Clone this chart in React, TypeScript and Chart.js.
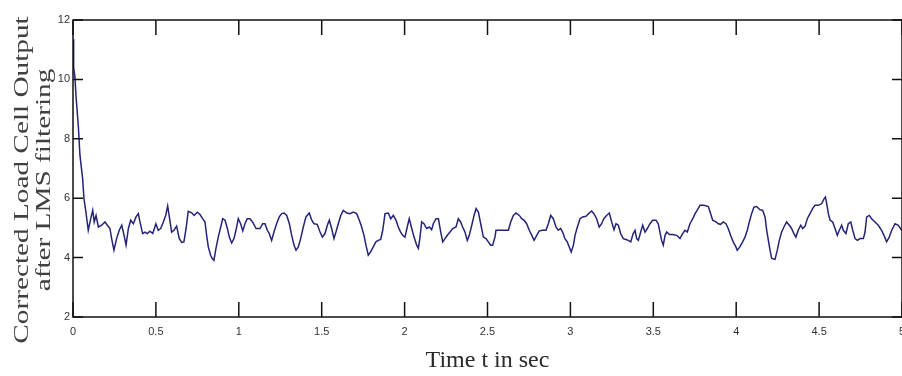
import React, { useEffect, useRef } from "react";
import { Chart, registerables } from "chart.js";

Chart.register(...registerables);

// Time axis (seconds)
const timeSec = [
  0.002, 0.004, 0.012, 0.018, 0.032, 0.042, 0.058, 0.066, 0.078, 0.092,
  0.107, 0.119, 0.128, 0.139, 0.153, 0.173, 0.193, 0.207, 0.223, 0.233,
  0.247, 0.263, 0.279, 0.294, 0.308, 0.32, 0.334, 0.348, 0.364, 0.38,
  0.394, 0.404, 0.42, 0.434, 0.448, 0.464, 0.481, 0.5, 0.514, 0.529,
  0.545, 0.559, 0.571, 0.581, 0.595, 0.609, 0.625, 0.641, 0.656, 0.669,
  0.682, 0.695, 0.716, 0.73, 0.75, 0.766, 0.782, 0.796, 0.806, 0.816,
  0.83, 0.84, 0.85, 0.862, 0.876, 0.891, 0.903, 0.917, 0.931, 0.943,
  0.957, 0.971, 0.983, 0.997, 1.011, 1.024, 1.037, 1.051, 1.067, 1.083,
  1.104, 1.128, 1.144, 1.158, 1.172, 1.184, 1.198, 1.212, 1.228, 1.244,
  1.259, 1.273, 1.289, 1.305, 1.319, 1.333, 1.345, 1.359, 1.373, 1.389,
  1.405, 1.425, 1.44, 1.454, 1.473, 1.49, 1.504, 1.52, 1.534, 1.546,
  1.56, 1.574, 1.586, 1.6, 1.615, 1.63, 1.651, 1.671, 1.69, 1.711,
  1.727, 1.741, 1.755, 1.767, 1.781, 1.795, 1.811, 1.827, 1.841, 1.856,
  1.868, 1.882, 1.902, 1.916, 1.932, 1.948, 1.962, 1.976, 1.988, 2.002,
  2.016, 2.028, 2.043, 2.057, 2.073, 2.083, 2.093, 2.103, 2.117, 2.133,
  2.149, 2.163, 2.173, 2.19, 2.204, 2.218, 2.23, 2.244, 2.258, 2.274,
  2.29, 2.31, 2.324, 2.338, 2.35, 2.364, 2.378, 2.39, 2.405, 2.419,
  2.431, 2.445, 2.459, 2.475, 2.491, 2.505, 2.519, 2.531, 2.545, 2.551,
  2.575, 2.606, 2.626, 2.64, 2.656, 2.672, 2.692, 2.706, 2.72, 2.736,
  2.752, 2.767, 2.781, 2.797, 2.812, 2.833, 2.853, 2.867, 2.881, 2.897,
  2.913, 2.927, 2.941, 2.953, 2.967, 2.981, 2.993, 3.005, 3.018, 3.028,
  3.042, 3.058, 3.074, 3.094, 3.114, 3.128, 3.142, 3.158, 3.174, 3.188,
  3.202, 3.218, 3.235, 3.249, 3.263, 3.275, 3.289, 3.303, 3.319, 3.335,
  3.349, 3.364, 3.378, 3.39, 3.4, 3.41, 3.424, 3.436, 3.45, 3.464,
  3.48, 3.496, 3.516, 3.53, 3.54, 3.55, 3.56, 3.571, 3.581, 3.597,
  3.617, 3.641, 3.661, 3.677, 3.691, 3.705, 3.721, 3.738, 3.752, 3.766,
  3.782, 3.806, 3.832, 3.846, 3.858, 3.878, 3.892, 3.906, 3.922, 3.938,
  3.952, 3.966, 3.982, 3.998, 4.006, 4.022, 4.039, 4.053, 4.067, 4.079,
  4.093, 4.107, 4.123, 4.144, 4.16, 4.174, 4.184, 4.194, 4.204, 4.214,
  4.234, 4.248, 4.26, 4.274, 4.288, 4.304, 4.32, 4.334, 4.348, 4.36,
  4.374, 4.389, 4.401, 4.415, 4.429, 4.445, 4.461, 4.475, 4.495, 4.516,
  4.53, 4.538, 4.546, 4.556, 4.566, 4.582, 4.596, 4.61, 4.622, 4.636,
  4.646, 4.662, 4.676, 4.691, 4.703, 4.717, 4.731, 4.747, 4.767, 4.777,
  4.787, 4.803, 4.817, 4.837, 4.857, 4.877, 4.891, 4.907, 4.923, 4.938,
  4.958, 4.978, 4.998,
];

// Corrected load cell output after LMS filtering
const loadCellOutput = [
  11.35, 10.4, 10.06, 9.45, 8.44, 7.44, 6.66, 5.99, 5.53, 4.92,
  5.31, 5.59, 5.2, 5.42, 5.03, 5.09, 5.2, 5.09, 4.98, 4.64,
  4.25, 4.64, 4.92, 5.09, 4.75, 4.42, 4.98, 5.26, 5.14, 5.37,
  5.48, 5.2, 4.81, 4.86, 4.81, 4.89, 4.81, 5.14, 4.92, 4.98,
  5.2, 5.42, 5.74, 5.37, 4.86, 4.92, 5.06, 4.64, 4.51, 4.53,
  4.98, 5.56, 5.51, 5.42, 5.53, 5.45, 5.31, 5.2, 4.75, 4.36,
  4.08, 3.97, 3.91, 4.3, 4.69, 5.03, 5.31, 5.26, 4.98, 4.69,
  4.49, 4.64, 4.92, 5.31, 5.14, 4.9, 5.14, 5.31, 5.31, 5.2,
  4.98, 4.98, 5.14, 5.14, 4.92, 4.81, 4.58, 4.86, 5.14, 5.37,
  5.48, 5.5, 5.42, 5.14, 4.75, 4.42, 4.25, 4.36, 4.64, 5.03,
  5.37, 5.5, 5.26, 5.14, 5.12, 4.86, 4.69, 4.81, 5.09, 5.26,
  4.98, 4.64, 4.86, 5.14, 5.42, 5.59, 5.5, 5.48, 5.53, 5.48,
  5.26, 5.03, 4.75, 4.42, 4.08, 4.19, 4.36, 4.53, 4.58, 4.61,
  4.92, 5.48, 5.5, 5.31, 5.42, 5.26, 5.03, 4.86, 4.75, 4.69,
  5.03, 5.31, 4.98, 4.69, 4.42, 4.31, 4.69, 5.2, 5.14, 4.98,
  5.03, 4.94, 5.14, 5.31, 5.31, 4.86, 4.53, 4.64, 4.75, 4.86,
  4.98, 5.03, 5.31, 5.2, 5.03, 4.86, 4.58, 4.75, 5.09, 5.42,
  5.65, 5.53, 5.14, 4.69, 4.64, 4.53, 4.42, 4.42, 4.69, 4.92,
  4.92, 4.92, 4.92, 5.2, 5.42, 5.5, 5.42, 5.31, 5.26, 5.14,
  4.92, 4.75, 4.58, 4.75, 4.9, 4.92, 4.92, 5.14, 5.42, 5.31,
  5.03, 4.92, 4.98, 4.86, 4.64, 4.53, 4.36, 4.19, 4.42, 4.75,
  5.03, 5.31, 5.37, 5.39, 5.5, 5.57, 5.48, 5.31, 5.03, 5.14,
  5.31, 5.42, 5.5, 5.2, 4.94, 5.14, 5.09, 4.81, 4.64, 4.61,
  4.58, 4.53, 4.8, 4.92, 4.64, 4.58, 4.86, 5.09, 4.86, 4.98,
  5.14, 5.26, 5.26, 5.14, 4.86, 4.58, 4.42, 4.75, 4.86, 4.78,
  4.78, 4.75, 4.64, 4.81, 4.92, 4.86, 5.14, 5.31, 5.48, 5.61,
  5.76, 5.76, 5.72, 5.48, 5.26, 5.2, 5.14, 5.12, 5.2, 5.14,
  4.98, 4.75, 4.53, 4.36, 4.25, 4.36, 4.53, 4.69, 4.92, 5.2,
  5.48, 5.7, 5.72, 5.61, 5.59, 5.37, 4.92, 4.58, 4.25, 3.97,
  3.94, 4.25, 4.58, 4.86, 5.03, 5.2, 5.09, 4.98, 4.81, 4.69,
  4.92, 5.09, 4.98, 5.05, 5.31, 5.48, 5.65, 5.76, 5.76, 5.82,
  5.98, 6.04, 5.82, 5.48, 5.26, 5.2, 4.98, 4.75, 4.92, 5.09,
  4.92, 4.81, 5.14, 5.2, 4.92, 4.64, 4.58, 4.64, 4.64, 4.86,
  5.37, 5.42, 5.31, 5.2, 5.09, 4.92, 4.75, 4.53, 4.69, 4.92,
  5.14, 5.09, 4.92,
];

const xTickValues = [0, 0.5, 1, 1.5, 2, 2.5, 3, 3.5, 4, 4.5, 5];
const xTickLabels = ["0", "0.5", "1", "1.5", "2", "2.5", "3", "3.5", "4", "4.5", "5"];
const yTickValues = [2, 4, 6, 8, 10, 12];
const yTickLabels = ["2", "4", "6", "8", "10", "12"];
const xAxisTitle = "Time t in sec";
const yAxisTitleLines = ["Corrected Load Cell Output", "after LMS filtering"];

const labelFor = (values: number[], labels: string[], v: number) => {
  const i = values.findIndex((t) => Math.abs(t - v) < 1e-6);
  return i >= 0 ? labels[i] : "";
};

const frameAndTicks = {
  id: "frameAndTicks",
  afterDatasetsDraw(chart: any) {
    const { ctx, chartArea, scales } = chart;
    const { left, right, top, bottom } = chartArea;
    const x = scales.x;
    const y = scales.y;
    ctx.save();
    ctx.strokeStyle = "#111";
    ctx.lineWidth = 1.5;
    ctx.strokeRect(left, top, right - left, bottom - top);
    ctx.beginPath();
    x.ticks.forEach((t: any) => {
      const px = x.getPixelForValue(t.value);
      ctx.moveTo(px, bottom);
      ctx.lineTo(px, bottom - 15);
      ctx.moveTo(px, top);
      ctx.lineTo(px, top + 15);
    });
    y.ticks.forEach((t: any) => {
      const py = y.getPixelForValue(t.value);
      ctx.moveTo(left, py);
      ctx.lineTo(left + 10, py);
      ctx.moveTo(right, py);
      ctx.lineTo(right - 10, py);
    });
    ctx.stroke();
    ctx.restore();
  },
};

const yTitlePlugin = {
  id: "yTitlePlugin",
  afterDraw(chart: any) {
    const { ctx } = chart;
    const cy = 180;
    const xs = [22, 44];
    ctx.save();
    ctx.fillStyle = "#404040";
    ctx.font = '22px "Liberation Serif", "Times New Roman", serif';
    ctx.textAlign = "center";
    ctx.textBaseline = "middle";
    yAxisTitleLines.forEach((line, i) => {
      ctx.save();
      ctx.translate(xs[i], cy);
      ctx.rotate(-Math.PI / 2);
      ctx.scale(1.33, 1);
      ctx.fillText(line, 0, 0);
      ctx.restore();
    });
    ctx.restore();
  },
};

export default function App() {
  const canvasRef = useRef<HTMLCanvasElement | null>(null);

  useEffect(() => {
    if (!canvasRef.current) return;
    const points = timeSec.map((t, i) => ({ x: t, y: loadCellOutput[i] }));
    const chart = new Chart(canvasRef.current, {
      type: "line",
      data: {
        datasets: [
          {
            data: points,
            borderColor: "#23237a",
            borderWidth: 1.5,
            pointRadius: 0,
            tension: 0,
            fill: false,
          },
        ],
      },
      options: {
        animation: false,
        responsive: false,
        devicePixelRatio: 1,
        layout: { padding: { top: 20, right: 2, left: 0, bottom: 0 } },
        plugins: {
          legend: { display: false },
          tooltip: { enabled: false },
        },
        scales: {
          x: {
            type: "linear",
            min: 0,
            max: 5,
            grid: { display: false, drawTicks: false },
            border: { display: false },
            ticks: {
              stepSize: 0.5,
              autoSkip: false,
              maxRotation: 0,
              padding: 8,
              color: "#333",
              font: { family: '"Liberation Sans", Arial, sans-serif', size: 11 },
              callback: (v: any) => labelFor(xTickValues, xTickLabels, Number(v)),
            },
            title: {
              display: true,
              text: xAxisTitle,
              color: "#2a2a2a",
              font: { family: '"Liberation Serif", "Times New Roman", serif', size: 24 },
              padding: { top: 0, bottom: 1 },
            },
            afterFit: (s: any) => {
              s.height = 59;
              s.paddingLeft = 0;
              s.paddingRight = 0;
            },
          },
          y: {
            type: "linear",
            min: 2,
            max: 12,
            grid: { display: false, drawTicks: false },
            border: { display: false },
            ticks: {
              stepSize: 2,
              padding: 3,
              color: "#333",
              font: { family: '"Liberation Sans", Arial, sans-serif', size: 11 },
              callback: (v: any) => labelFor(yTickValues, yTickLabels, Number(v)),
            },
            afterFit: (s: any) => {
              s.width = 73;
              s.paddingTop = 0;
              s.paddingBottom = 0;
            },
          },
        },
      },
      plugins: [frameAndTicks, yTitlePlugin],
    });
    return () => chart.destroy();
  }, []);

  return (
    <div
      style={{
        position: "absolute",
        left: 0,
        top: 0,
        width: 902,
        height: 376,
        overflow: "hidden",
        background: "#fff",
      }}
    >
      <canvas ref={canvasRef} width={904} height={376} style={{ display: "block" }} />
    </div>
  );
}
